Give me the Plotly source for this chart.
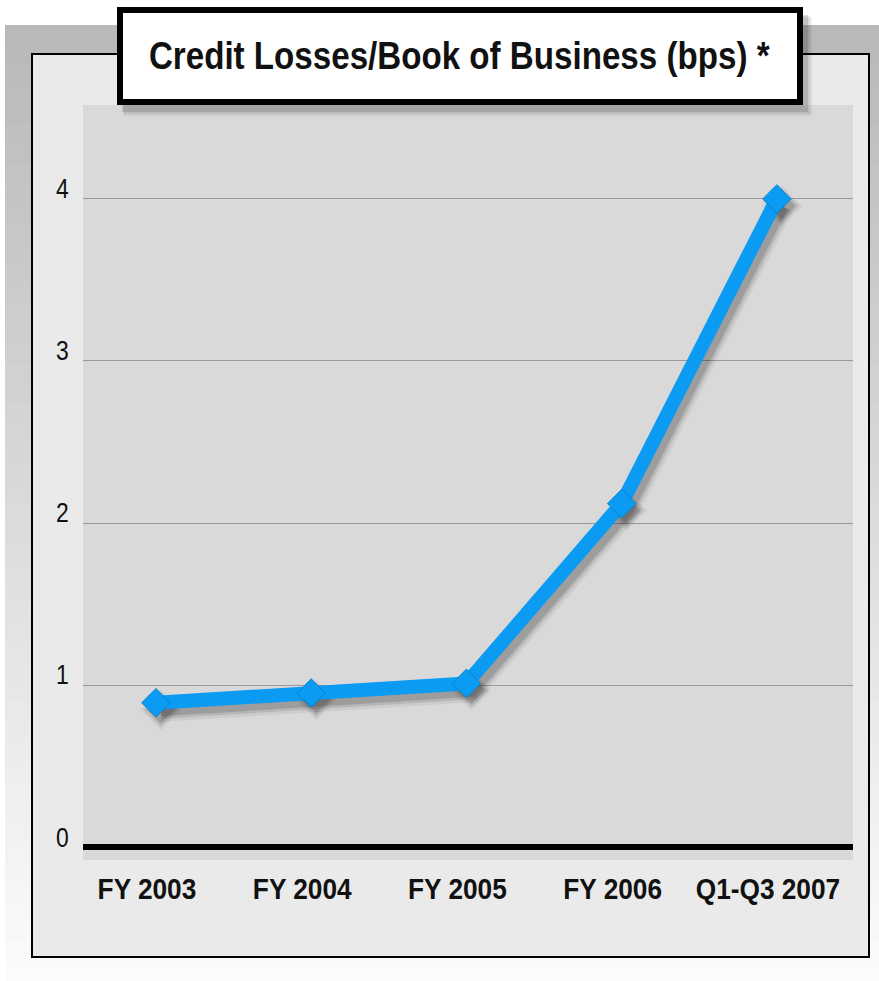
import plotly.graph_objects as go

# ---- data ----
categories = ["FY 2003", "FY 2004", "FY 2005", "FY 2006", "Q1-Q3 2007"]
values = [0.89, 0.95, 1.01, 2.12, 4.0]
y_ticks = [0, 1, 2, 3, 4]
title_text = "Credit Losses/Book of Business (bps) *"

# ---- layout geometry (pixels) ----
W, H = 879, 981
L, R, T, B = 83, 853, 105, 860
XR = [-0.47, 4.49]
YR = [-0.08, 4.58]
ppx = (R - L) / (XR[1] - XR[0])
ppy = (B - T) / (YR[1] - YR[0])
SDX, SDY = 5, 7  # shadow offset


def px(x):
    return (x - L) / (R - L)


def py(y):
    return (B - y) / (B - T)


FONT = "Liberation Sans Narrow, Arial Narrow, Liberation Sans, Arial, sans-serif"
BLUE = "#0b9bf3"

fig = go.Figure()

# invisible trace on main axes so category axis renders
fig.add_trace(go.Scatter(x=categories, y=values, mode="lines",
                         line=dict(width=0, color="rgba(0,0,0,0)"),
                         hoverinfo="skip", showlegend=False, xaxis="x", yaxis="y"))

# shadow traces (shifted overlay axes)
fig.add_trace(go.Scatter(x=categories, y=values, mode="lines+markers",
                         line=dict(width=24, color="rgba(0,0,0,0.06)"),
                         marker=dict(symbol="diamond", size=31, color="rgba(0,0,0,0.06)"),
                         hoverinfo="skip", showlegend=False, xaxis="x2", yaxis="y2"))
fig.add_trace(go.Scatter(x=categories, y=values, mode="lines+markers",
                         line=dict(width=18, color="rgba(0,0,0,0.10)"),
                         marker=dict(symbol="diamond", size=26, color="rgba(0,0,0,0.10)"),
                         hoverinfo="skip", showlegend=False, xaxis="x2", yaxis="y2"))
fig.add_trace(go.Scatter(x=categories, y=values, mode="lines+markers",
                         line=dict(width=13, color="rgba(0,0,0,0.14)"),
                         marker=dict(symbol="diamond", size=21, color="rgba(0,0,0,0.14)"),
                         hoverinfo="skip", showlegend=False, xaxis="x2", yaxis="y2"))

# main line
fig.add_trace(go.Scatter(x=categories, y=values, mode="lines+markers",
                         line=dict(width=14, color=BLUE),
                         marker=dict(symbol="diamond", size=22, color=BLUE,
                                     line=dict(width=1, color="#0a82cc")),
                         showlegend=False, xaxis="x3", yaxis="y3"))

shapes = []
# gradient gray background
N = 48
y0, y1 = 25, 981
c0, c1 = 184, 252
for i in range(N):
    a = y0 + (y1 - y0) * i / N
    b = y0 + (y1 - y0) * (i + 1) / N + 0.5
    c = int(round(c0 + (c1 - c0) * (i + 0.5) / N))
    shapes.append(dict(type="rect", xref="paper", yref="paper", layer="below",
                       x0=px(5), x1=px(879), y0=py(b), y1=py(a),
                       fillcolor=f"rgb({c},{c},{c})", line=dict(width=0)))
# inner panel
shapes.append(dict(type="rect", xref="paper", yref="paper", layer="below",
                   x0=px(32), x1=px(869), y0=py(957), y1=py(54),
                   fillcolor="#eaeaea", line=dict(width=2, color="#000000")))
# plot area fill
shapes.append(dict(type="rect", xref="paper", yref="paper", layer="below",
                   x0=0, x1=1, y0=0, y1=1,
                   fillcolor="#d9d9d9", line=dict(width=0)))
# title box shadow
for k, op in enumerate([0.06, 0.08, 0.12]):
    g = 3 - k
    shapes.append(dict(type="rect", xref="paper", yref="paper", layer="above",
                       x0=px(121 + g), x1=px(806 + g * 2), y0=py(110 + g * 2), y1=py(14 + g),
                       fillcolor=f"rgba(0,0,0,{op})", line=dict(width=0)))
# title box
shapes.append(dict(type="rect", xref="paper", yref="paper", layer="above",
                   x0=px(120), x1=px(800), y0=py(102), y1=py(10),
                   fillcolor="#ffffff", line=dict(width=6, color="#000000")))

annotations = [dict(text=f"<b>{title_text}</b>", xref="paper", yref="paper",
                    x=px(459), y=py(56), xanchor="center", yanchor="middle",
                    showarrow=False, font=dict(family=FONT, size=39, color="#111111"))]

fig.update_layout(
    width=W, height=H,
    margin=dict(l=L, r=W - R, t=T, b=H - B, pad=0),
    paper_bgcolor="#ffffff",
    plot_bgcolor="#d9d9d9",
    showlegend=False,
    shapes=shapes,
    annotations=annotations,
    xaxis=dict(type="category", categoryarray=categories, range=XR,
               showgrid=False, zeroline=False, showline=False, ticks="",
               ticklabelstandoff=8, ticklabelshift=-9,
               tickfont=dict(family=FONT, size=30, color="#111111", weight="bold"),
               fixedrange=True),
    yaxis=dict(range=YR, tickvals=y_ticks, showgrid=True, gridcolor="#9a9a9a", gridwidth=1,
               zeroline=True, zerolinecolor="#000000", zerolinewidth=6,
               showline=False, ticks="", ticklabelposition="outside",
               ticklabelstandoff=12, ticklabelshift=-10,
               tickfont=dict(family=FONT, size=27, color="#111111"), fixedrange=True),
    xaxis2=dict(type="category", categoryarray=categories, overlaying="x",
                range=[XR[0] - SDX / ppx, XR[1] - SDX / ppx], visible=False),
    yaxis2=dict(overlaying="y", range=[YR[0] + SDY / ppy, YR[1] + SDY / ppy], visible=False),
    xaxis3=dict(type="category", categoryarray=categories, overlaying="x",
                range=XR, visible=False),
    yaxis3=dict(overlaying="y", range=YR, visible=False),
)

post = """
document.body.style.margin = '0';
var gd = document.getElementById('{plot_id}');
function squeeze(sel, s) {
  gd.querySelectorAll(sel).forEach(function (t) {
    var bb = t.getBBox();
    var cx = bb.x + bb.width / 2;
    var tr = t.getAttribute('transform') || '';
    t.setAttribute('transform', tr + ' translate(' + cx + ',0) scale(' + s + ',1) translate(' + (-cx) + ',0)');
  });
}
squeeze('.xtick text', 0.875);
squeeze('.ytick text', 0.85);
squeeze('.annotation-text', 0.85);
"""

fig.write_html("out.html", post_script=post, config={"displayModeBar": False})
